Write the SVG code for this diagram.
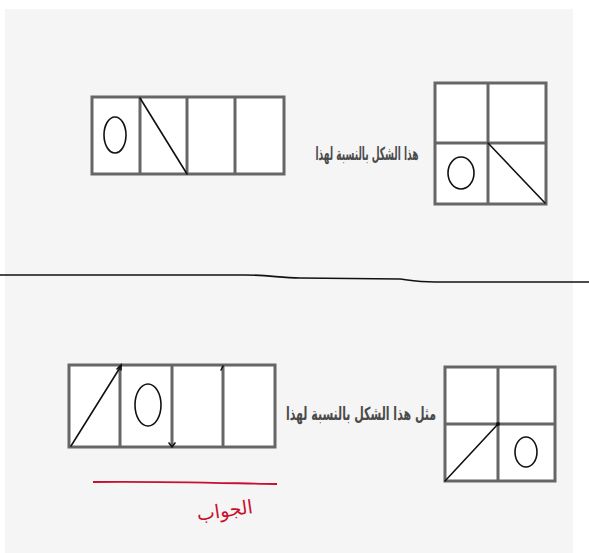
<svg xmlns="http://www.w3.org/2000/svg" width="589" height="553" viewBox="0 0 589 553">
<style>
.grid{fill:#fff;stroke:#666;stroke-width:3}
.div{stroke:#666;stroke-width:3}
.ink{fill:none;stroke:#111;stroke-width:1.6;stroke-linecap:round}
.lbl{font-family:"DejaVu Sans Condensed","DejaVu Sans",sans-serif;font-size:18px;fill:#4a4a4a;font-weight:bold}
</style>
<rect x="0" y="0" width="589" height="553" fill="#fff"/>
<rect x="5" y="9" width="568" height="544" fill="#f5f5f5"/>
<g id="connectors">
<path d="M0 275 L245 275 C270 275 280 278 300 278 L400 279 C415 281 420 282 435 282 L589 282" fill="none" stroke="#111" stroke-width="1.6"/>
<path d="M93 482 C150 481 220 483 277 484" fill="none" stroke="#c8102e" stroke-width="1.8"/>
</g>
<g id="strip-top">
<rect class="grid" x="92" y="97" width="192" height="77"/>
<line class="div" x1="140" y1="97" x2="140" y2="174"/>
<line class="div" x1="187" y1="97" x2="187" y2="174"/>
<line class="div" x1="235" y1="97" x2="235" y2="174"/>
<ellipse class="ink" cx="115" cy="135" rx="11" ry="18"/>
<line class="ink" x1="140" y1="98" x2="187" y2="174"/>
</g>
<g id="grid-top">
<rect class="grid" x="435" y="83" width="111" height="121"/>
<line class="div" x1="488" y1="83" x2="488" y2="204"/>
<line class="div" x1="435" y1="143" x2="546" y2="143"/>
<ellipse class="ink" cx="461" cy="173" rx="13" ry="16"/>
<line class="ink" x1="488" y1="143" x2="545" y2="203"/>
</g>
<g id="label-top">
<text class="lbl" x="367" y="160" text-anchor="middle" direction="rtl" textLength="103" lengthAdjust="spacingAndGlyphs">هذا الشكل بالنسبة لهذا</text>
</g>
<g id="strip-bottom">
<rect class="grid" x="69" y="365" width="206" height="82"/>
<line class="div" x1="120" y1="365" x2="120" y2="447"/>
<line class="div" x1="172" y1="365" x2="172" y2="447"/>
<line class="div" x1="223" y1="365" x2="223" y2="447"/>
<ellipse class="ink" cx="148" cy="405" rx="13" ry="21"/>
<line class="ink" x1="71" y1="446" x2="121" y2="366"/>
<path class="ink" d="M117 369 L121 365 L121 370"/>
<path class="ink" d="M169 443 L172 447 L175 443"/>
<path class="ink" d="M221 370 L223 366"/>
</g>
<g id="grid-bottom">
<rect class="grid" x="445" y="367" width="110" height="114"/>
<line class="div" x1="498" y1="367" x2="498" y2="481"/>
<line class="div" x1="445" y1="424" x2="555" y2="424"/>
<ellipse class="ink" cx="526" cy="452" rx="11" ry="15"/>
<line class="ink" x1="445" y1="481" x2="498" y2="424"/>
<circle cx="498" cy="424" r="2" fill="#111"/>
</g>
<g id="label-bottom">
<text class="lbl" x="361" y="420" text-anchor="middle" direction="rtl" textLength="150" lengthAdjust="spacingAndGlyphs">مثل هذا الشكل بالنسبة لهذا</text>
</g>
<g id="answer">
<text x="225" y="517" text-anchor="middle" direction="rtl" font-family="DejaVu Sans, sans-serif" font-size="19" fill="#c8102e" transform="rotate(-8 225 512)">الجواب</text>
</g>
</svg>
